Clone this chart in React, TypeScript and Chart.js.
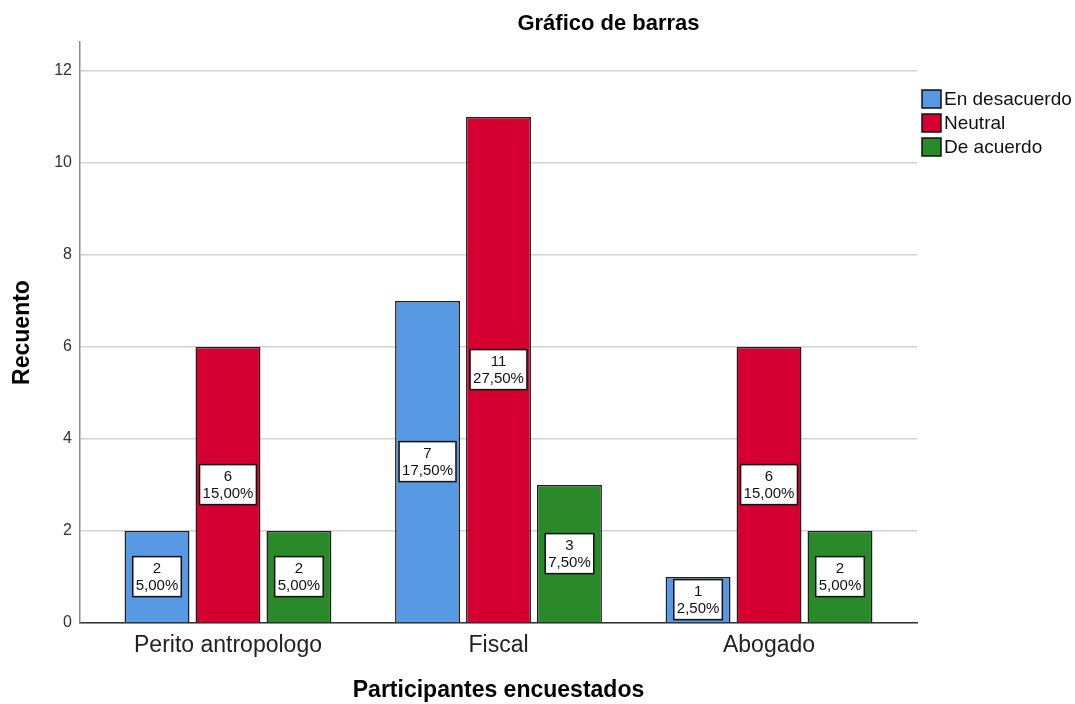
import React, { useEffect, useRef } from "react";
import { Chart, registerables } from "chart.js";

Chart.register(...registerables);

const categories = ["Perito antropologo", "Fiscal", "Abogado"];
const seriesNames = ["En desacuerdo", "Neutral", "De acuerdo"];
const enDesacuerdo = [2, 7, 1];
const neutral = [6, 11, 6];
const deAcuerdo = [2, 3, 2];
const pctEnDesacuerdo = ["5,00%", "17,50%", "2,50%"];
const pctNeutral = ["15,00%", "27,50%", "15,00%"];
const pctDeAcuerdo = ["5,00%", "7,50%", "5,00%"];
const yTicks = [0, 2, 4, 6, 8, 10, 12];
const seriesColors = ["#5899E3", "#D5002F", "#2A8A2A"];

const FONT = "'Liberation Sans', Arial, sans-serif";

const overlayPlugin = {
  id: "overlay",
  afterDatasetsDraw(chart: any) {
    const ctx = chart.ctx;
    const pcts = [pctEnDesacuerdo, pctNeutral, pctDeAcuerdo];
    ctx.save();
    chart.data.datasets.forEach((ds: any, di: number) => {
      const meta = chart.getDatasetMeta(di);
      meta.data.forEach((el: any, i: number) => {
        const v = ds.data[i].y;
        const line1 = String(v);
        const line2 = pcts[di][i];
        ctx.font = `15px ${FONT}`;
        const w = Math.max(ctx.measureText(line1).width, ctx.measureText(line2).width) + 6;
        const h = 40;
        const cx = el.x;
        const cy = (el.y + el.base) / 2;
        ctx.fillStyle = "#ffffff";
        ctx.fillRect(cx - w / 2, cy - h / 2, w, h);
        ctx.strokeStyle = "#111";
        ctx.lineWidth = 1.5;
        ctx.strokeRect(cx - w / 2, cy - h / 2, w, h);
        ctx.fillStyle = "#111";
        ctx.textAlign = "center";
        ctx.textBaseline = "middle";
        ctx.fillText(line1, cx, cy - 8);
        ctx.fillText(line2, cx, cy + 9);
      });
    });
    ctx.restore();
  },
  afterDraw(chart: any) {
    const ctx = chart.ctx;
    const area = chart.chartArea;
    ctx.save();
    // title
    ctx.font = `bold 22px ${FONT}`;
    ctx.fillStyle = "#000";
    ctx.textAlign = "center";
    ctx.textBaseline = "middle";
    ctx.fillText("Gráfico de barras", (area.left + area.right) / 2 + 110, 24);
    // legend
    const lx = area.right + 5;
    let ly = 90;
    ctx.font = `19px ${FONT}`;
    ctx.textAlign = "left";
    chart.data.datasets.forEach((ds: any) => {
      ctx.fillStyle = ds.backgroundColor;
      ctx.fillRect(lx, ly, 19, 18);
      ctx.strokeStyle = "#111";
      ctx.lineWidth = 1.5;
      ctx.strokeRect(lx, ly, 19, 18);
      ctx.fillStyle = "#111";
      ctx.fillText(ds.label, lx + 22, ly + 10);
      ly += 24;
    });
    ctx.restore();
  },
};

export default function App() {
  const canvasRef = useRef<HTMLCanvasElement | null>(null);

  useEffect(() => {
    if (!canvasRef.current) return;
    const values = [enDesacuerdo, neutral, deAcuerdo];
    const chart = new Chart(canvasRef.current, {
      type: "bar",
      data: {
        datasets: values.map((arr, di) => ({
          label: seriesNames[di],
          data: arr.map((v, i) => ({ x: i, y: v })),
          backgroundColor: seriesColors[di],
          borderColor: "#1e1e1e",
          borderWidth: 1.5,
          categoryPercentage: 0.787,
          barPercentage: 0.915,
        })),
      },
      options: {
        animation: false,
        responsive: true,
        maintainAspectRatio: false,
        layout: { padding: { top: 42, right: 158, left: 0, bottom: 0 } },
        plugins: {
          legend: { display: false },
          title: { display: false },
          tooltip: { enabled: false },
        },
        scales: {
          x: {
            type: "linear",
            min: -0.547,
            max: 2.547,
            offset: false,
            grid: { display: false, drawTicks: false },
            border: { display: true, color: "#333", width: 1.5 },
            afterBuildTicks: (s: any) => {
              s.ticks = categories.map((_, i) => ({ value: i }));
            },
            ticks: {
              callback: (v: any) => categories[v] ?? "",
              font: { family: FONT, size: 23 },
              color: "#222",
              padding: 9,
              maxRotation: 0,
              autoSkip: false,
            },
            title: {
              display: true,
              text: "Participantes encuestados",
              font: { family: FONT, size: 23, weight: "bold" },
              color: "#000",
              padding: { top: 0, bottom: 0 },
            },
            afterFit: (s: any) => {
              s.height = 81;
            },
          },
          y: {
            min: 0,
            max: 12.63,
            afterBuildTicks: (s: any) => {
              s.ticks = yTicks.map((v) => ({ value: v }));
            },
            grid: { color: "#d2d2d2", lineWidth: 1.5, drawTicks: false },
            border: { color: "#8a8a8a", width: 1.5 },
            ticks: {
              font: { family: FONT, size: 16 },
              color: "#333",
              padding: 8,
            },
            title: {
              display: true,
              text: "Recuento",
              font: { family: FONT, size: 23, weight: "bold" },
              color: "#000",
              padding: { top: 9, bottom: 0 },
            },
            afterFit: (s: any) => {
              s.width = 80;
            },
          },
        },
      } as any,
      plugins: [overlayPlugin],
    });
    return () => chart.destroy();
  }, []);

  return (
    <div style={{ position: "fixed", left: 0, top: 0, width: 1075, height: 704, background: "#fff" }}>
      <canvas ref={canvasRef} />
    </div>
  );
}
